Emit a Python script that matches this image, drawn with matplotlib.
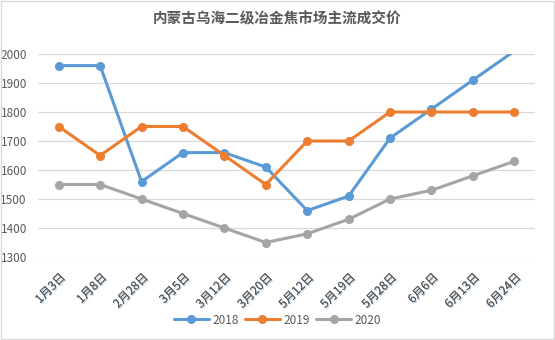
import matplotlib.pyplot as plt
import matplotlib.patheffects as pe
from matplotlib.patches import Rectangle

plt.rcParams['font.family'] = ['Noto Sans CJK SC', 'DejaVu Sans']

# 日期和价格
dates = ["1月3日", "1月8日", "2月28日", "3月5日", "3月12日", "3月20日",
         "5月12日", "5月19日", "5月28日", "6月6日", "6月13日", "6月24日"]
price_2018 = [1960, 1960, 1560, 1660, 1660, 1610, 1460, 1510, 1710, 1810, 1910, 2010]
price_2019 = [1750, 1650, 1750, 1750, 1650, 1550, 1700, 1700, 1800, 1800, 1800, 1800]
price_2020 = [1550, 1550, 1500, 1450, 1400, 1350, 1380, 1430, 1500, 1530, 1580, 1630]

series = [("2018", price_2018, "#5B9BD5"),
          ("2019", price_2019, "#ED7D31"),
          ("2020", price_2020, "#A5A5A5")]

y_min, y_max = 1300, 2000

fig = plt.figure(figsize=(5.55, 3.4), dpi=100)
ax = fig.add_axes([38 / 555, 1 - 257 / 340, 497 / 555, 203 / 340])

x = list(range(len(dates)))
for name, vals, col in series:
    # 超出坐标范围的点不画标记
    shown = [i for i, v in enumerate(vals) if y_min <= v <= y_max]
    ax.plot(x, vals, color=col, lw=2.2, marker="o", markersize=5.5,
            markevery=shown, label=name, solid_capstyle="round")

ax.set_xlim(-0.5, len(dates) - 0.5)
ax.set_ylim(y_min, y_max)
ax.set_yticks(range(y_min, y_max + 1, 100))
ax.grid(axis="y", color="#D9D9D9", lw=0.9)
ax.set_axisbelow(True)
for s in ax.spines.values():
    s.set_visible(False)
ax.tick_params(length=0, labelsize=8.5, colors="#595959")
ax.tick_params(axis="y", pad=8)

ax.set_xticks(x)
ax.set_xticklabels(dates, rotation=45, ha="right", rotation_mode="anchor",
                   fontsize=8.5, color="#595959")
for lab in ax.get_xticklabels():
    lab.set_path_effects([pe.withSimplePatchShadow(offset=(0.8, -0.8),
                                                   shadow_rgbFace="#9DC3E6",
                                                   alpha=0.7), pe.Normal()])
ax.tick_params(axis="x", pad=10)

fig.text(0.5, 1 - 18 / 340, "内蒙古乌海二级冶金焦市场主流成交价",
         ha="center", va="center", fontsize=10.5, fontweight="bold", color="#595959")

fig.legend(loc="center", bbox_to_anchor=(0.5, 1 - 320 / 340), ncol=3, frameon=False,
           fontsize=8.5, labelcolor="#595959", handlelength=3.0,
           columnspacing=0.5, handletextpad=0.3)

fig.patches.append(Rectangle((0.001, 0.002), 0.997, 0.995, transform=fig.transFigure,
                             fill=False, edgecolor="#D9D9D9", lw=1))

fig.savefig("out.png", dpi=100)
